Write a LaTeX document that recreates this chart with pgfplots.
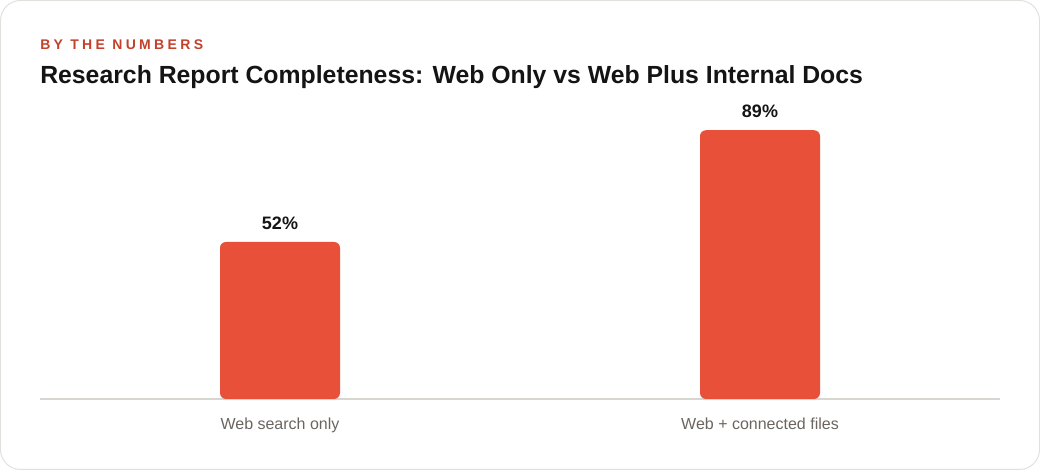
\documentclass[border=0pt]{standalone}
\usepackage{pgfplots}
\pgfplotsset{compat=1.18}
\usepackage{fontspec}
\setmainfont{Liberation Sans}
\newfontfamily\spaced[LetterSpace=24]{Liberation Sans}
\definecolor{barc}{HTML}{E8503A}
\definecolor{kicker}{HTML}{C2412B}
\definecolor{basec}{HTML}{D9D5D0}
\definecolor{tickc}{HTML}{6B6560}
\definecolor{cardb}{HTML}{E2E0DC}
\begin{document}
\begin{tikzpicture}[x=0.75pt,y=0.75pt]
\useasboundingbox (-40,-71) rectangle (1000,399);
\draw[cardb, line width=0.75pt, rounded corners=15pt] (-39.5,-70.5) rectangle (999.5,398.5);
\node[anchor=base west, inner sep=0, text=kicker, font=\spaced\bfseries\fontsize{10.5}{12}\selectfont] at (0,349) {BY THE NUMBERS};
\node[anchor=base west, inner sep=0, text=black!92, font=\bfseries\fontsize{18.6}{22}\selectfont] at (0,315) {Research Report Completeness: Web Only vs Web Plus Internal Docs};
\begin{axis}[
  at={(0,0)}, anchor=south west,
  scale only axis, width=720pt, height=226.5pt,
  xmin=-0.5, xmax=1.5, ymin=0, ymax=100,
  axis x line*=bottom, axis y line=none,
  x axis line style={draw=basec, line width=1.1pt},
  xtick={0,1}, xticklabels={Web search only, Web + connected files},
  xtick style={draw=none},
  xticklabel style={font=\fontsize{12}{14}\selectfont, text=tickc, yshift=-10.5pt},
  ytick=\empty,
  /pgf/number format/assume math mode=true,
  clip=false,
]
\addplot[ybar, bar width=90pt, fill=barc, draw=none, rounded corners=4.5pt,
  nodes near coords={\pgfmathprintnumber{\pgfplotspointmeta}\%},
  nodes near coords style={font=\bfseries\fontsize{13.5}{15}\selectfont, text=black!92, yshift=5.5pt}]
  coordinates {(0,52) (1,89)};
\end{axis}
\end{tikzpicture}
\end{document}
